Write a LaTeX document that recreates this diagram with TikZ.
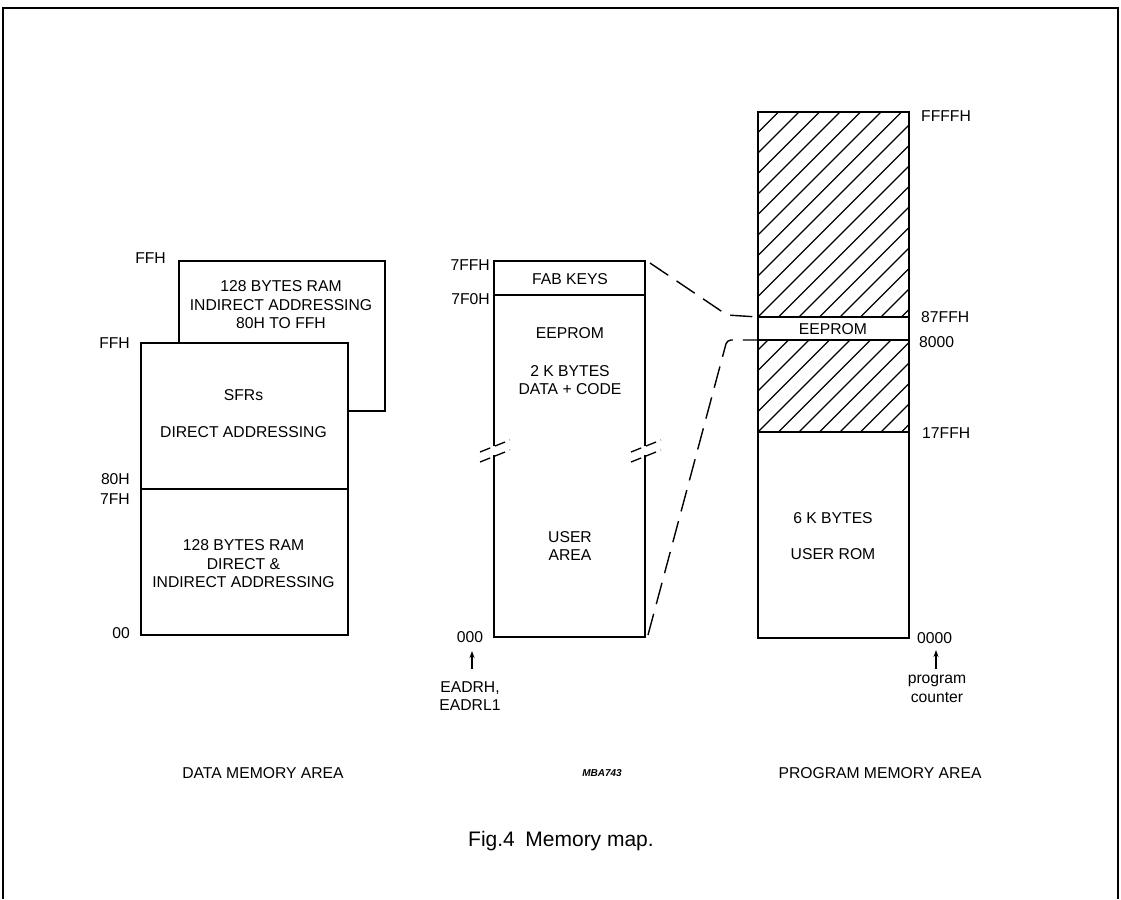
\documentclass[tikz,border=0pt]{standalone}
\usepackage{fontspec}
\setmainfont{Liberation Sans}
\usetikzlibrary{arrows.meta}
\begin{document}
\begin{tikzpicture}[x=1pt,y=-1pt,
  outline/.style={line width=1.8pt},
  frameline/.style={line width=1.6pt},
  hatch/.style={line width=1.1pt},
  conn/.style={line width=1.4pt, dash pattern=on 22pt off 10pt},
  brk/.style={line width=1.3pt, dash pattern=on 11pt off 5pt},
  txt/.style={font=\fontsize{15.7}{18.5}\selectfont, inner sep=0pt, align=center},
  lbl/.style={font=\fontsize{15.7}{18}\selectfont, inner sep=0pt},
  figcaption/.style={font=\fontsize{21}{25}\selectfont, inner sep=0pt},
  tag/.style={font=\fontsize{10}{12}\selectfont\bfseries\itshape, inner sep=0pt},
  up/.style={-{Stealth[length=7pt,width=5pt]}, line width=1.4pt}]
\useasboundingbox (0,0) rectangle (1121,899);
% outer frame (open at the bottom)
\draw[frameline] (3,899) -- (3,8) -- (1118,8) -- (1118,899);

% ---------- data memory ----------
\node[outline, draw, fill=white, anchor=north west, minimum width=206pt, minimum height=150pt, inner sep=0pt] (ramhi) at (178,260) {};
\node[outline, draw, fill=white, anchor=north west, minimum width=207pt, minimum height=292pt, inner sep=0pt] (sfr) at (140,342) {};
\draw[outline] (140,489) -- (347,489);
\node[txt] (ramhitxt) at (281,305) {128 BYTES RAM\\INDIRECT ADDRESSING\\80H TO FFH};
\node[txt] (sfrtxt) at (243.5,395) {SFRs};
\node[txt] (sfrtxt2) at (243.5,432) {DIRECT ADDRESSING};
\node[txt] (ramlo) at (243.5,564) {128 BYTES RAM\\DIRECT \&\\INDIRECT ADDRESSING};
\node[lbl, anchor=east] (dffh1) at (166,258) {FFH};
\node[lbl, anchor=east] (dffh2) at (130,343) {FFH};
\node[lbl, anchor=east] (d80h) at (130,479) {80H};
\node[lbl, anchor=east] (d7fh) at (130,499) {7FH};
\node[lbl, anchor=east] (d00) at (130,633) {00};

% ---------- EEPROM (data + code) ----------
\coordinate (eTL) at (494,261);
\coordinate (eTR) at (645,261);
\coordinate (eBL) at (494,637);
\coordinate (eBR) at (645,637);
\draw[outline] (494,446) -- (eTL) -- (eTR) -- (645,446);
\draw[outline] (494,455) -- (eBL) -- (eBR) -- (645,455);
\draw[outline] (494,295) -- (645,295);
\foreach \xx in {494,645}{
  \draw[brk] (\xx-14,452) -- (\xx+16,440);
  \draw[brk] (\xx-14,462) -- (\xx+16,450);
}
\node[txt] (fab) at (570,279) {FAB KEYS};
\node[txt] (ee1) at (570,333) {EEPROM};
\node[txt] (ee2) at (570,380) {2 K BYTES\\DATA + CODE};
\node[txt] (usr) at (570,546) {USER\\AREA};
\node[lbl, anchor=east] (m7ffh) at (490,265) {7FFH};
\node[lbl, anchor=east] (m7f0h) at (490,299) {7F0H};
\node[lbl] (m000) at (470,637) {000};
\node[txt] (eadr) at (470,696) {EADRH,\\EADRL1};
\coordinate (aup1) at (472,651);
\draw[up] (472,669) -- (aup1);

% ---------- program memory ----------
\coordinate (pTL) at (758,112);
\coordinate (pBR) at (909,638);
\coordinate (pEt) at (758,317);
\coordinate (pEb) at (758,340);
\begin{scope}
  \clip (758,112) rectangle (909,317);
  \foreach \i in {-12,...,8}{\draw[hatch] (758+\i*20.5,317) -- ++(260,-260);}
\end{scope}
\begin{scope}
  \clip (758,340) rectangle (909,432);
  \foreach \i in {-6,...,8}{\draw[hatch] (758+\i*20.5,432) -- ++(160,-160);}
\end{scope}
\draw[outline] (pTL) rectangle (pBR);
\draw[outline] (758,317) -- (909,317);
\draw[outline] (758,340) -- (909,340);
\draw[outline] (758,432) -- (909,432);
\node[txt] (pee) at (833,329) {EEPROM};
\node[txt] (prom) at (833,536) {6 K BYTES\\[18pt]USER ROM};
\node[lbl, anchor=west] (pffff) at (921,116) {FFFFH};
\node[lbl, anchor=west] (p87ff) at (921,317) {87FFH};
\node[lbl, anchor=west] (p8000) at (919,342) {8000};
\node[lbl, anchor=west] (p17ff) at (922,433) {17FFH};
\node[lbl, anchor=west] (p0000) at (917,638) {0000};
\coordinate (aup2) at (936,650);
\draw[up] (936,669) -- (aup2);
\node[txt] (pc) at (937,689) {program\\counter};

% ---------- dashed correspondences ----------
\draw[conn, rounded corners=4pt] (eTR) ++(5,2) -- (727,315) -- (pEt);
\draw[conn, rounded corners=4pt] (eBR) ++(3,-2) -- (727,340) -- (pEb);

% ---------- captions ----------
\node[lbl] (dma) at (263,773) {DATA MEMORY AREA};
\node[tag] (mba) at (602,773) {MBA743};
\node[lbl] (pma) at (880,773) {PROGRAM MEMORY AREA};
\node[figcaption] (fig) at (561,841) {Fig.4\enspace Memory map.};
\end{tikzpicture}
\end{document}
